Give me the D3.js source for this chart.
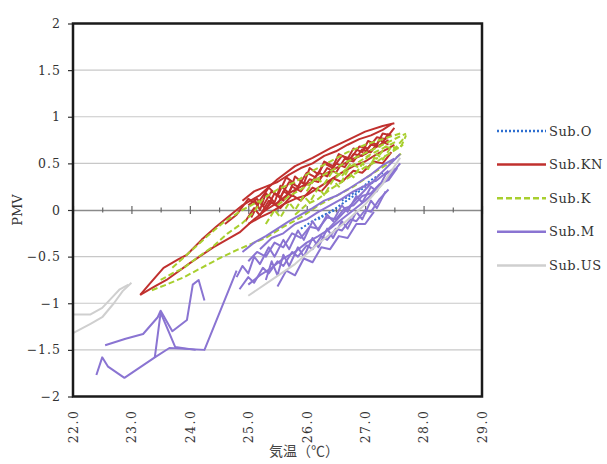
<!DOCTYPE html>
<html>
<head>
<meta charset="utf-8">
<script src="https://cdn.jsdelivr.net/npm/d3@7"></script>
<style>
  html, body { margin: 0; padding: 0; background: #fff; }
  svg { display: block; }
</style>
</head>
<body>
<svg id="chart" width="607" height="464"></svg>
<script>
// Air temperature (°C) vs PMV, one set of polylines per subject
const seriesNames = ["Sub.O", "Sub.KN", "Sub.K", "Sub.M", "Sub.US"];
const xTicks = [22, 23, 24, 25, 26, 27, 28, 29];
const yTicks = [-2, -1.5, -1, -0.5, 0, 0.5, 1, 1.5, 2];

const subO = [
  [[26.2,-0.1],[26.5,0.02],[26.8,0.15],[27.0,0.25],[27.2,0.32]],
  [[26.6,0.1],[26.9,0.22],[27.1,0.32],[27.3,0.4]],
  [[25.9,-0.2],[26.1,-0.12],[26.3,-0.05],[26.5,0.0]]
];

const subKN = [
  [[23.15,-0.91],[23.3,-0.8],[23.55,-0.62],[23.8,-0.53],[23.95,-0.48],[24.2,-0.32],[24.45,-0.18],[24.7,-0.05],[24.9,0.05],[25.2,0.16],[25.5,0.33],[25.8,0.47],[26.1,0.56],[26.4,0.66],[26.7,0.75],[27.0,0.84],[27.3,0.9],[27.5,0.93]],
  [[23.15,-0.91],[23.4,-0.82],[23.6,-0.75],[24.0,-0.57],[24.4,-0.4],[24.85,-0.24],[25.1,-0.1],[25.3,0.0],[25.5,0.08],[25.7,0.18],[25.9,0.25],[26.1,0.3],[26.3,0.38],[26.5,0.45],[26.8,0.55],[27.0,0.6],[27.2,0.68],[27.4,0.75]],
  [[24.95,-0.12],[25.1,0.02],[25.2,-0.06],[25.35,0.1],[25.5,0.05],[25.6,0.2],[25.75,0.15],[25.9,0.3],[26.05,0.27],[26.2,0.4],[26.35,0.36],[26.5,0.5],[26.65,0.46],[26.8,0.6],[26.95,0.58],[27.1,0.7],[27.25,0.68],[27.4,0.82]],
  [[25.0,0.05],[25.15,0.12],[25.25,0.04],[25.4,0.2],[25.55,0.14],[25.7,0.3],[25.85,0.25],[26.0,0.4],[26.15,0.35],[26.3,0.5],[26.45,0.45],[26.6,0.58],[26.75,0.55],[26.9,0.68],[27.05,0.66],[27.2,0.78],[27.35,0.76],[27.5,0.88]],
  [[25.05,-0.08],[25.2,0.1],[25.3,0.0],[25.45,0.18],[25.6,0.1],[25.75,0.25],[25.9,0.2],[26.05,0.33],[26.2,0.3],[26.35,0.45],[26.5,0.4],[26.65,0.55],[26.8,0.52],[26.95,0.65],[27.1,0.62],[27.25,0.75],[27.4,0.7]],
  [[24.9,0.1],[25.1,0.2],[25.3,0.25],[25.5,0.3],[25.7,0.38],[25.9,0.45],[26.1,0.5],[26.3,0.58],[26.5,0.63],[26.7,0.7],[26.9,0.76],[27.1,0.8],[27.3,0.86],[27.45,0.92]],
  [[25.0,-0.15],[25.2,-0.08],[25.4,-0.02],[25.6,0.06],[25.8,0.12],[26.0,0.16],[26.2,0.24],[26.4,0.32],[26.6,0.4],[26.8,0.47],[27.0,0.52],[27.2,0.6],[27.4,0.66],[27.5,0.7]],
  [[25.1,0.12],[25.2,0.0],[25.3,0.18],[25.45,0.08],[25.55,0.26],[25.7,0.18],[25.8,0.36],[25.95,0.28],[26.05,0.45],[26.2,0.38],[26.3,0.52],[26.45,0.47],[26.55,0.6],[26.7,0.55],[26.8,0.66],[26.95,0.62],[27.05,0.74],[27.2,0.7],[27.3,0.82],[27.45,0.8]],
  [[25.2,-0.05],[25.4,0.08],[25.55,0.02],[25.75,0.16],[25.9,0.1],[26.1,0.24],[26.25,0.2],[26.45,0.34],[26.6,0.3],[26.8,0.42],[26.95,0.4],[27.15,0.52],[27.3,0.5],[27.45,0.62]],
  [[24.6,-0.15],[24.8,-0.05],[25.0,0.12],[25.15,0.06],[25.35,0.24],[25.5,0.15],[25.65,0.35],[25.8,0.28]]
];

const subK = [
  [[23.35,-0.86],[23.6,-0.8],[23.9,-0.72],[24.2,-0.62],[24.5,-0.52],[24.8,-0.43],[25.1,-0.35],[25.3,-0.3],[25.6,-0.18],[25.9,-0.08],[26.2,0.05],[26.5,0.15],[26.8,0.25],[27.1,0.38],[27.4,0.5],[27.65,0.62]],
  [[23.5,-0.75],[23.7,-0.68],[23.9,-0.62],[24.15,-0.5],[24.4,-0.39],[24.65,-0.25],[24.9,-0.14],[25.1,-0.02],[25.25,0.12],[25.5,0.22],[25.8,0.3],[26.1,0.42],[26.4,0.52],[26.7,0.62],[27.0,0.7],[27.3,0.76],[27.6,0.82]],
  [[23.7,-0.62],[24.0,-0.45],[24.3,-0.28],[24.6,-0.12],[24.9,0.0],[25.2,0.1]],
  [[25.3,-0.15],[25.45,0.0],[25.55,-0.08],[25.7,0.08],[25.8,0.0],[25.95,0.15],[26.05,0.08],[26.2,0.24],[26.3,0.16],[26.45,0.32],[26.55,0.25],[26.7,0.42],[26.8,0.35],[26.95,0.5],[27.05,0.44],[27.2,0.6],[27.3,0.54],[27.45,0.68],[27.6,0.66],[27.7,0.8]],
  [[25.5,0.05],[25.7,0.15],[25.9,0.22],[26.1,0.3],[26.3,0.38],[26.5,0.45],[26.7,0.52],[26.9,0.58],[27.1,0.64],[27.3,0.7],[27.5,0.76],[27.7,0.82]],
  [[25.8,-0.05],[26.0,0.06],[26.2,0.12],[26.4,0.22],[26.6,0.3],[26.8,0.38],[27.0,0.46],[27.2,0.52],[27.4,0.6],[27.65,0.7]],
  [[26.0,0.2],[26.15,0.35],[26.3,0.28],[26.45,0.42],[26.6,0.36],[26.75,0.5],[26.9,0.45],[27.05,0.58],[27.2,0.55],[27.35,0.68],[27.5,0.65],[27.65,0.76]],
  [[26.5,0.35],[26.7,0.45],[26.9,0.52],[27.1,0.6],[27.3,0.66],[27.55,0.74]]
];

const subM = [
  [[22.4,-1.77],[22.5,-1.58],[22.6,-1.68],[22.88,-1.8],[23.4,-1.58],[23.65,-1.48],[24.25,-1.5],[24.8,-0.65]],
  [[22.55,-1.45],[22.9,-1.38],[23.2,-1.33],[23.45,-1.15],[23.5,-1.08],[23.7,-1.3],[23.95,-1.18],[24.05,-0.8],[24.15,-0.75],[24.25,-0.97]],
  [[23.4,-1.58],[23.5,-1.1],[23.75,-1.47],[24.1,-1.5]],
  [[24.8,-0.72],[24.9,-0.6],[25.0,-0.68],[25.1,-0.5],[25.2,-0.58],[25.35,-0.4],[25.45,-0.5],[25.6,-0.32],[25.7,-0.42],[25.85,-0.22],[25.95,-0.32],[26.1,-0.12],[26.2,-0.22],[26.35,-0.05],[26.45,-0.12],[26.6,0.05],[26.7,-0.02],[26.85,0.15],[26.95,0.08],[27.1,0.25],[27.2,0.2],[27.35,0.38],[27.5,0.45]],
  [[25.0,-0.8],[25.2,-0.7],[25.4,-0.62],[25.6,-0.52],[25.8,-0.45],[26.0,-0.35],[26.2,-0.28],[26.4,-0.2],[26.6,-0.1],[26.8,0.0],[27.0,0.1],[27.2,0.22],[27.4,0.35],[27.6,0.5]],
  [[24.9,-0.45],[25.1,-0.35],[25.3,-0.28],[25.5,-0.2],[25.7,-0.12],[25.9,-0.05],[26.1,0.02],[26.3,0.1],[26.5,0.15],[26.7,0.22],[26.9,0.3],[27.1,0.38],[27.3,0.48],[27.5,0.55]],
  [[25.3,-0.75],[25.4,-0.55],[25.5,-0.7],[25.6,-0.48],[25.7,-0.6],[25.85,-0.4],[25.95,-0.5],[26.1,-0.3],[26.2,-0.4],[26.35,-0.2],[26.45,-0.3],[26.6,-0.12],[26.7,-0.2],[26.85,-0.02],[26.95,-0.1],[27.1,0.1],[27.2,0.02],[27.35,0.2]],
  [[26.3,-0.25],[26.6,-0.05],[26.9,0.15],[27.2,0.35],[27.6,0.6]],
  [[24.85,-0.85],[25.0,-0.72],[25.1,-0.78],[25.25,-0.62],[25.35,-0.68],[25.5,-0.55],[25.6,-0.6],[25.75,-0.45],[25.85,-0.5],[26.0,-0.38],[26.1,-0.42],[26.25,-0.28],[26.35,-0.32],[26.5,-0.2],[26.6,-0.22],[26.75,-0.1],[26.85,-0.12],[27.0,0.0],[27.1,-0.02],[27.25,0.12],[27.4,0.22]],
  [[25.0,-0.55],[25.15,-0.45],[25.3,-0.5],[25.45,-0.35],[25.6,-0.4],[25.75,-0.25],[25.9,-0.3],[26.05,-0.18],[26.2,-0.2],[26.35,-0.08],[26.5,-0.1],[26.65,0.02],[26.8,0.05],[26.95,0.15],[27.1,0.18],[27.25,0.28],[27.4,0.32],[27.55,0.45]],
  [[25.2,-0.42],[25.4,-0.3],[25.6,-0.25],[25.8,-0.15],[26.0,-0.1],[26.2,-0.02],[26.4,0.05],[26.6,0.12],[26.8,0.2],[27.0,0.26],[27.2,0.32],[27.4,0.42]],
  [[25.5,-0.82],[25.65,-0.65],[25.8,-0.7],[25.95,-0.52],[26.1,-0.56],[26.25,-0.4],[26.4,-0.42],[26.55,-0.28],[26.7,-0.3],[26.85,-0.15],[27.0,-0.15],[27.15,-0.02]]
];

const subUS = [
  [[22.0,-1.32],[22.3,-1.22],[22.5,-1.15],[22.7,-1.0],[22.85,-0.87],[23.0,-0.78]],
  [[22.0,-1.12],[22.3,-1.12],[22.5,-1.05],[22.65,-0.95],[22.8,-0.85],[22.95,-0.8]],
  [[25.0,-0.92],[25.4,-0.75],[25.8,-0.58],[26.2,-0.36],[26.6,-0.16],[27.0,0.06],[27.3,0.28],[27.6,0.56]]
];

const seriesData = [subO, subKN, subK, subM, subUS];
const colors = ["#2f6fd0", "#c0302e", "#a8cf2e", "#8a74d2", "#cfcfcf"];
const dashes = ["2,2", null, "6,3", null, null];

const svg = d3.select("#chart");
const plot = { left: 73, right: 482, top: 23.5, bottom: 396.5 };

const x = d3.scaleLinear().domain([22, 29]).range([plot.left, plot.right]);
const y = d3.scaleLinear().domain([-2, 2]).range([plot.bottom, plot.top]);

const serif = "'DejaVu Serif', 'Liberation Serif', serif";

// horizontal gridlines
svg.append("g").selectAll("line").data(yTicks.filter(v => v !== 0 && v !== 2 && v !== -2)).join("line")
  .attr("x1", plot.left).attr("x2", plot.right)
  .attr("y1", d => y(d)).attr("y2", d => y(d))
  .attr("stroke", "#c8c8c8").attr("stroke-width", 1.2);

// horizontal axis crossing at PMV = 0
const x0 = svg.append("g").attr("transform", `translate(0,${y(0)})`)
  .call(d3.axisBottom(x).tickValues(d3.range(22, 29.01, 0.5)).tickFormat("").tickSize(0));
x0.select(".domain").attr("stroke", "#8a8a8a").attr("stroke-width", 1.3);
x0.selectAll(".tick line").remove();
x0.selectAll(".tick").append("line")
  .attr("y1", d => Number.isInteger(d) ? -4 : -2.5)
  .attr("y2", d => Number.isInteger(d) ? 4 : 2.5)
  .attr("stroke", "#666").attr("stroke-width", 1.2);

// data lines
const line = d3.line().x(d => x(d[0])).y(d => y(d[1]));
seriesData.forEach((runs, i) => {
  svg.append("g").attr("class", "series")
    .selectAll("path").data(runs).join("path")
    .attr("d", line)
    .attr("fill", "none")
    .attr("stroke", colors[i])
    .attr("stroke-width", 2)
    .attr("stroke-linejoin", "round")
    .attr("stroke-dasharray", dashes[i]);
});

// left axis with outward ticks
const yAxis = svg.append("g").attr("transform", `translate(${plot.left},0)`)
  .call(d3.axisLeft(y).tickValues(yTicks).tickSize(5).tickPadding(7)
    .tickFormat(d => d3.format("")(d)));
yAxis.select(".domain").remove();
yAxis.selectAll(".tick line").attr("stroke", "#333").attr("stroke-width", 1.2);
yAxis.selectAll("text").attr("font-family", serif).attr("font-size", 12.5)
  .attr("fill", "#333").style("letter-spacing", "1px");

// bottom tick labels, rotated
const xAxis = svg.append("g").attr("transform", `translate(0,${plot.bottom})`)
  .call(d3.axisBottom(x).tickValues(xTicks).tickSize(0).tickFormat(d3.format(".1f")));
xAxis.select(".domain").remove();
xAxis.selectAll("text")
  .attr("font-family", serif).attr("font-size", 12.5).attr("fill", "#333")
  .style("letter-spacing", "1.5px")
  .attr("text-anchor", "end")
  .attr("transform", "rotate(-90)")
  .attr("x", -13).attr("y", 0).attr("dy", "0.35em");

// plot frame
svg.append("rect")
  .attr("x", plot.left).attr("y", plot.top)
  .attr("width", plot.right - plot.left).attr("height", plot.bottom - plot.top)
  .attr("fill", "none").attr("stroke", "#1a1a1a").attr("stroke-width", 2.5);

// axis titles
svg.append("text")
  .attr("transform", `translate(17,${y(0)}) rotate(-90)`)
  .attr("text-anchor", "middle").attr("dy", "0.35em")
  .attr("font-family", serif).attr("font-size", 13).attr("fill", "#333")
  .text("PMV");

svg.append("text")
  .attr("x", 304).attr("y", 456)
  .attr("text-anchor", "middle")
  .attr("font-family", "'Noto Sans CJK JP', sans-serif").attr("font-size", 14).attr("fill", "#444")
  .text("気温（℃）");

// legend
const legend = svg.append("g").selectAll("g").data(seriesNames).join("g")
  .attr("transform", (d, i) => `translate(0,${131 + i * 33.6})`);
legend.append("line")
  .attr("x1", 497).attr("x2", 546).attr("y1", 0).attr("y2", 0)
  .attr("stroke", (d, i) => colors[i]).attr("stroke-width", 2.5)
  .attr("stroke-dasharray", (d, i) => dashes[i]);
legend.append("text")
  .attr("x", 549).attr("y", 0).attr("dy", "0.35em")
  .attr("font-family", serif).attr("font-size", 13).attr("fill", "#333")
  .style("letter-spacing", "0.5px")
  .text(d => d);
</script>
</body>
</html>
